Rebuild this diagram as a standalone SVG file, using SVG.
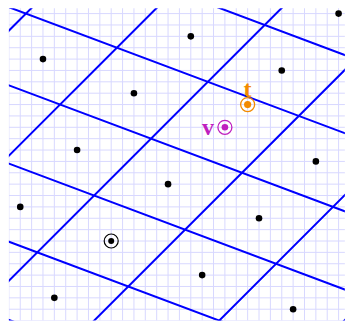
<svg xmlns="http://www.w3.org/2000/svg" width="345" height="322" viewBox="0 0 345 322">
<style>
.grid{fill:none;stroke:#d8d8ff;stroke-width:1}
.lat{fill:none;stroke:#0000ff;stroke-width:2}
.dot{fill:#000}
.lbl{font-family:"Liberation Serif",serif;font-weight:bold;font-size:24px}
</style>
<defs>
<clipPath id="plot"><rect x="8.87" y="8.2" width="336" height="312.4"/></clipPath>
</defs>
<rect width="345" height="322" fill="#fff"/>
<g clip-path="url(#plot)">
<g id="grid" transform="matrix(11.37 0 0 -11.37 111.2 241)">
<path class="grid" vector-effect="non-scaling-stroke" d="M-9 -7V21M-8 -7V21M-7 -7V21M-6 -7V21M-5 -7V21M-4 -7V21M-3 -7V21M-2 -7V21M-1 -7V21M0 -7V21M1 -7V21M2 -7V21M3 -7V21M4 -7V21M5 -7V21M6 -7V21M7 -7V21M8 -7V21M9 -7V21M10 -7V21M11 -7V21M12 -7V21M13 -7V21M14 -7V21M15 -7V21M16 -7V21M17 -7V21M18 -7V21M19 -7V21M20 -7V21M-9 -7H21M-9 -6H21M-9 -5H21M-9 -4H21M-9 -3H21M-9 -2H21M-9 -1H21M-9 0H21M-9 1H21M-9 2H21M-9 3H21M-9 4H21M-9 5H21M-9 6H21M-9 7H21M-9 8H21M-9 9H21M-9 10H21M-9 11H21M-9 12H21M-9 13H21M-9 14H21M-9 15H21M-9 16H21M-9 17H21M-9 18H21M-9 19H21M-9 20H21"/>
</g>
<g id="connectors" transform="matrix(11.37 0 0 -11.37 111.2 241)">
<path class="lat" vector-effect="non-scaling-stroke" d="M-20 -2.8125L40 -25.3125M-20 4.0625L40 -18.4375M-20 10.9375L40 -11.5625M-20 17.8125L40 -4.6875M-20 24.6875L40 2.1875M-20 31.5625L40 9.0625"/>
<path class="lat" vector-effect="non-scaling-stroke" d="M-20 -47.5L40 12.5M-20 -36.5L40 23.5M-20 -25.5L40 34.5M-20 -14.5L40 45.5M-20 -3.5L40 56.5M-20 7.5L40 67.5"/>
</g>
</g>
<g id="points">
<circle class="dot" cx="202.16" cy="275.11" r="3.3"/>
<circle class="dot" cx="293.12" cy="309.22" r="3.3"/>
<circle class="dot" cx="168.05" cy="184.15" r="3.3"/>
<circle class="dot" cx="259.01" cy="218.26" r="3.3"/>
<circle class="dot" cx="315.86" cy="161.41" r="3.3"/>
<circle class="dot" cx="281.75" cy="70.45" r="3.3"/>
<circle class="dot" cx="338.6" cy="13.6" r="3.3"/>
<circle class="dot" cx="190.79" cy="36.34" r="3.3"/>
<circle class="dot" cx="133.94" cy="93.19" r="3.3"/>
<circle class="dot" cx="42.98" cy="59.08" r="3.3"/>
<circle class="dot" cx="77.09" cy="150.04" r="3.3"/>
<circle class="dot" cx="20.24" cy="206.89" r="3.3"/>
<circle class="dot" cx="54.35" cy="297.85" r="3.3"/>
</g>
<g id="origin">
<circle cx="111.2" cy="241" r="7" fill="none" stroke="#000" stroke-width="1.2"/>
<circle cx="111.2" cy="241" r="3" fill="#000"/>
</g>
<g id="v">
<circle cx="224.9" cy="127.3" r="7" fill="none" stroke="#bf1fbf" stroke-width="1.3"/>
<circle cx="224.9" cy="127.3" r="3.3" fill="#bf1fbf"/>
<text class="lbl" x="208" y="135" fill="#bf1fbf" text-anchor="middle">v</text>
</g>
<g id="t">
<circle cx="247.64" cy="104.56" r="7" fill="none" stroke="#f28a00" stroke-width="1.3"/>
<circle cx="247.64" cy="104.56" r="3.6" fill="#f28a00"/>
<text class="lbl" x="247.6" y="96.5" fill="#f28a00" text-anchor="middle">t</text>
</g>
</svg>
